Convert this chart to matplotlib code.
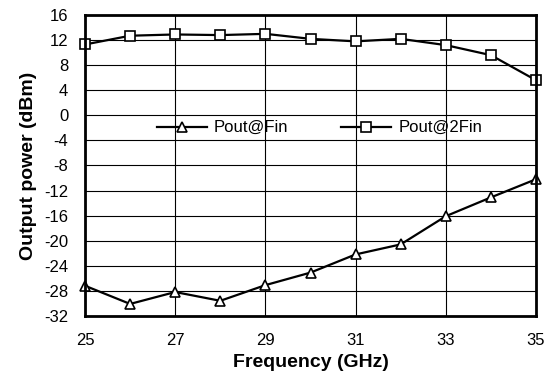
import matplotlib
matplotlib.use('Agg')
import matplotlib.pyplot as plt

# data
freq = [25, 26, 27, 28, 29, 30, 31, 32, 33, 34, 35]
pout_fin = [-27.2, -30.1, -28.2, -29.6, -27.1, -25.1, -22.2, -20.6, -16.1, -13.1, -10.2]
pout_2fin = [11.3, 12.7, 12.9, 12.8, 13.0, 12.2, 11.8, 12.2, 11.2, 9.6, 5.6]
x_ticks = [25, 27, 29, 31, 33, 35]
y_ticks = list(range(-32, 17, 4))

plt.rcParams['font.family'] = ['Liberation Sans', 'DejaVu Sans']
plt.rcParams['axes.unicode_minus'] = False

fig = plt.figure(figsize=(5.52, 3.76), dpi=100)
ax = fig.add_axes([0.154, 0.160, 0.817, 0.800])

ax.plot(freq, pout_fin, color='black', lw=1.6, marker='^', ms=6.5,
        mfc='white', mec='black', mew=1.2, label='Pout@Fin', zorder=3,
        clip_on=False)
ax.plot(freq, pout_2fin, color='black', lw=1.6, marker='s', ms=7,
        mfc='white', mec='black', mew=1.2, label='Pout@2Fin', zorder=3,
        clip_on=False)

ax.set_xlim(25, 35)
ax.set_ylim(-32, 16)
ax.set_xticks(x_ticks)
ax.set_yticks(y_ticks)
ax.grid(True, color='black', lw=0.8)
ax.tick_params(length=0, labelsize=12, pad=12)
for sp in ax.spines.values():
    sp.set_linewidth(2)
    sp.set_zorder(4)

ax.set_xlabel('Frequency (GHz)', fontsize=14, fontweight='bold', labelpad=5)
ax.set_ylabel('Output power (dBm)', fontsize=14, fontweight='bold', labelpad=5)

ax.legend(loc='center', bbox_to_anchor=(0.52, 0.625), ncol=2, frameon=False,
          fontsize=12, handlelength=3, columnspacing=3.2, handletextpad=0.4)

plt.savefig('out.png', dpi=100)
